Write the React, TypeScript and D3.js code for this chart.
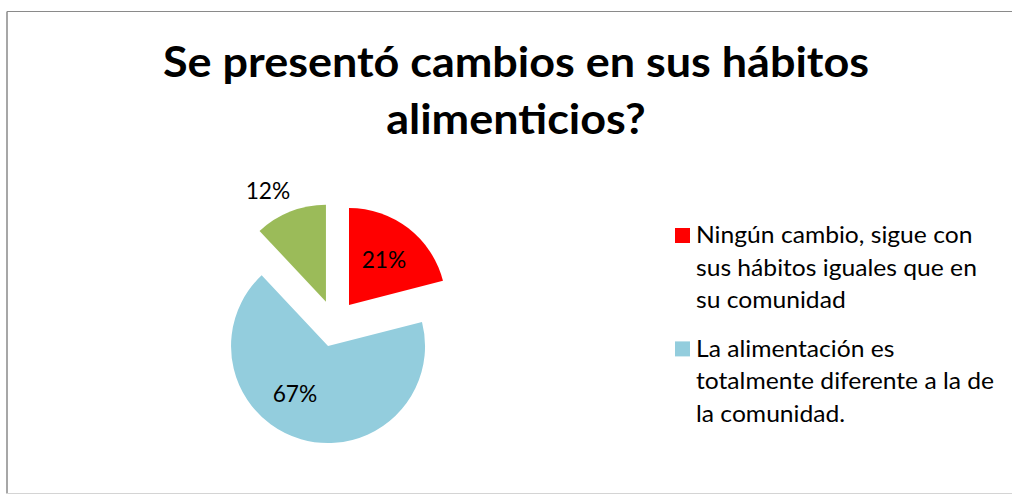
import React, { useEffect, useRef } from "react";
import * as d3 from "d3";

const titleLines = ["Se presentó cambios en sus hábitos", "alimenticios?"];
const categories = [
  "Ningún cambio, sigue con sus hábitos iguales que en su comunidad",
  "La alimentación es totalmente diferente a la de la comunidad.",
  "Otro",
];
const values = [21, 67, 12];
const colors = ["#FF0000", "#93CDDD", "#9BBB59"];
const valueLabels = ["21%", "67%", "12%"];
const legendLines = [
  ["Ningún cambio, sigue con", "sus hábitos iguales que en", "su comunidad"],
  ["La alimentación es", "totalmente diferente a la de", "la comunidad."],
];

const W = 1012;
const H = 495;
const FONT = "Lato, 'Open Sans', sans-serif";

export default function App() {
  const ref = useRef<SVGSVGElement | null>(null);

  useEffect(() => {
    document.body.style.margin = "0";
    document.body.style.overflow = "hidden";
    const svg = d3.select(ref.current);
    svg.selectAll("*").remove();

    // frame
    svg.append("rect").attr("x", 0).attr("y", 0).attr("width", W).attr("height", H).attr("fill", "#fff");
    svg.append("line").attr("x1", 7).attr("x2", W).attr("y1", 11.5).attr("y2", 11.5).attr("stroke", "#8a8a8a").attr("stroke-width", 1);
    svg.append("line").attr("x1", 7).attr("x2", 7).attr("y1", 11.5).attr("y2", 493.5).attr("stroke", "#8a8a8a").attr("stroke-width", 1.5);
    svg.append("line").attr("x1", 7).attr("x2", W).attr("y1", 493.5).attr("y2", 493.5).attr("stroke", "#d4d4d4").attr("stroke-width", 1);

    // title
    const title = svg.append("g");
    titleLines.forEach((t, i) => {
      title
        .append("text")
        .attr("class", "cond")
        .attr("data-sx", 1.07)
        .attr("x", 516)
        .attr("y", 77.3 + i * 57)
        .attr("text-anchor", "middle")
        .attr("font-family", FONT)
        .attr("font-weight", 700)
        .attr("font-size", 42)
        .attr("fill", "#000")
        .text(t);
    });

    // pie
    const cx = 334.6;
    const cy = 323.5;
    const r = 97;
    const explode = 23.5;
    const pie = d3.pie<number>().sort(null).value((d) => d).startAngle(0).endAngle(2 * Math.PI);
    const arcs = pie(values);
    const arc = d3.arc<d3.PieArcDatum<number>>().innerRadius(0).outerRadius(r);

    const labelFrac = [0.5, 0.578, 0.36];
    const labelDist = [57, 57.7, 125];

    const g = svg.append("g").attr("transform", `translate(${cx},${cy})`);
    arcs.forEach((a, i) => {
      const mid = (a.startAngle + a.endAngle) / 2;
      const ox = explode * Math.sin(mid);
      const oy = -explode * Math.cos(mid);
      const sg = g.append("g").attr("transform", `translate(${ox},${oy})`);
      sg.append("path").attr("d", arc(a) as string).attr("fill", colors[i]);
      const la = a.startAngle + labelFrac[i] * (a.endAngle - a.startAngle);
      sg.append("text")
        .attr("class", "cond")
        .attr("data-sx", 0.96)
        .attr("x", labelDist[i] * Math.sin(la))
        .attr("y", -labelDist[i] * Math.cos(la))
        .attr("dy", "0.36em")
        .attr("text-anchor", "middle")
        .attr("font-family", FONT)
        .attr("font-size", 23.7)
        .attr("fill", "#000")
        .text(valueLabels[i]);
    });

    // legend
    const lg = svg.append("g").attr("transform", "translate(675,228)");
    legendLines.forEach((lines, i) => {
      const y0 = i * 113.4;
      lg.append("rect").attr("x", 0).attr("y", y0).attr("width", 15).attr("height", 15).attr("fill", colors[i]);
      lines.forEach((ln, j) => {
        lg.append("text")
          .attr("class", "cond")
          .attr("data-sx", 1.04)
          .attr("x", 21)
          .attr("y", y0 + 15.3 + j * 32.5)
          .attr("font-family", FONT)
          .attr("font-size", 23.7)
          .attr("fill", "#000")
          .attr("data-cat", categories[i])
          .text(ln);
      });
    });

    // adjust horizontal proportions to mimic Calibri
    svg.selectAll<SVGTextElement, unknown>("text.cond").each(function () {
      const sx = +(this.getAttribute("data-sx") || 1);
      const len = this.getComputedTextLength();
      d3.select(this).attr("textLength", len * sx).attr("lengthAdjust", "spacingAndGlyphs");
    });
  }, []);

  return <svg ref={ref} width={W} height={H} style={{ position: "absolute", left: 0, top: 0, display: "block" }} />;
}
